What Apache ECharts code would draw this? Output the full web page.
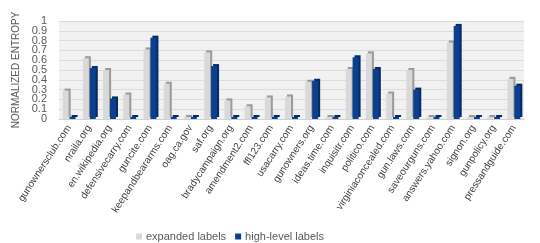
<!DOCTYPE html>
<html><head><meta charset="utf-8">
<script src="https://cdn.jsdelivr.net/npm/echarts@6/dist/echarts.min.js"></script>
<style>html,body{margin:0;padding:0;background:#fff}#c{width:540px;height:243px}</style>
</head><body><div id="c"></div>
<script>
const categories = ["gunownersclub.com","nraila.org","en.wikipedia.org","defensivecarry.com","guncite.com","keepandbeararms.com","oag.ca.gov","saf.org","bradycampaign.org","amendment2.com","ffl123.com","usacarry.com","gunowners.org","ideas.time.com","inquisitr.com","politico.com","virginiaconcealed.com","gun.laws.com","saveourguns.com","answers.yahoo.com","signon.org","gunpolicy.org","pressandguide.com"];
const expandedLabels = [0.29,0.62,0.50,0.25,0.71,0.36,0,0.68,0.19,0.13,0.22,0.23,0.38,0,0.51,0.67,0.26,0.50,0,0.78,0,0,0.41];
const highLevelLabels = [0,0.52,0.21,0,0.83,0,0,0.54,0,0,0,0,0.39,0,0.63,0.51,0,0.30,0,0.95,0,0,0.34];
const yTicksEven = [0,0.2,0.4,0.6,0.8,1];
const yTicksOdd = [0.1,0.3,0.5,0.7,0.9];

const chart = echarts.init(document.getElementById('c'));
const font = 'Liberation Sans';
const lblBase = {fontSize:11,color:'#595959',fontFamily:font,margin:12};
const pick = list => v => {const t=list.find(x=>Math.abs(x-v)<1e-6);return t===undefined?'':String(t);};
chart.setOption({
  animation:false,
  textStyle:{fontFamily:font},
  legend:{top:231,left:136,padding:0,itemWidth:6,itemHeight:6,itemGap:9,icon:'rect',
    textStyle:{fontSize:11,color:'#595959',fontFamily:font,padding:[0,0,0,-1]},
    data:['expanded labels','high-level labels']},
  grid:{left:59,right:16,top:21,bottom:124,show:true,backgroundColor:'#f1f1f1',borderWidth:0},
  xAxis:{type:'category',data:categories,
    axisLine:{lineStyle:{color:'#d0d0d0'}},axisTick:{show:false},
    axisLabel:{rotate:57,interval:0,fontSize:10,color:'#404040',fontFamily:font,margin:7}},
  yAxis:[
    {type:'value',min:0,max:1,interval:0.1,position:'left',
      name:'NORMALIZED ENTROPY',nameLocation:'middle',nameGap:36,
      nameTextStyle:{fontSize:10,color:'#595959',fontFamily:font},
      axisLine:{show:false},axisTick:{show:false},
      splitLine:{lineStyle:{color:'#dcdcdc'}},
      axisLabel:Object.assign({},lblBase,{showMinLabel:false,showMaxLabel:false,formatter:pick(yTicksOdd)})},
    {type:'value',min:0,max:1,interval:0.2,position:'left',offset:0,
      axisLine:{show:false},axisTick:{show:false},splitLine:{show:false},
      axisLabel:Object.assign({},lblBase,{showMinLabel:true,showMaxLabel:true,formatter:pick(yTicksEven)})}
  ],
  series:[
    {name:'expanded labels',type:'bar',data:expandedLabels,barWidth:6,barGap:'15%',barMinHeight:2,
      itemStyle:{color:'#d9d9d9',shadowColor:'#9a9a9a',shadowOffsetX:2,shadowOffsetY:-2,shadowBlur:0}},
    {name:'high-level labels',type:'bar',data:highLevelLabels,barWidth:6,barMinHeight:2,
      itemStyle:{color:'#0d3f8f',shadowColor:'#062a62',shadowOffsetX:2,shadowOffsetY:-2,shadowBlur:0}}
  ]
});
</script></body></html>
